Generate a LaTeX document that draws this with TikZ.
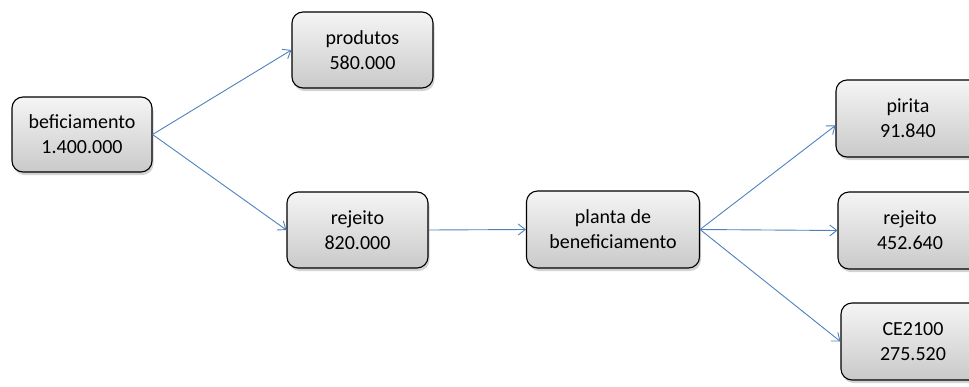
\documentclass[tikz,border=0pt]{standalone}
\usepackage{fontspec}
\setmainfont{Carlito}
\usetikzlibrary{arrows.meta, shadows}
\definecolor{flowBlue}{HTML}{4F81BD}

\begin{document}
\begin{tikzpicture}[x=1pt, y=-1pt,
      >={Straight Barb[length=7pt, width=11pt]},
      box/.style={draw=black, line width=1.1pt, rounded corners=11pt,
        top color=gray!8, bottom color=gray!42, align=center,
        minimum width=141pt, minimum height=76pt, inner sep=2pt,
        font=\fontsize{20}{25}\selectfont,
        drop shadow={shadow xshift=1.5pt, shadow yshift=-3pt, opacity=0.35, fill=gray}},
      flow/.style={->, draw=flowBlue, line width=0.9pt}]
    \useasboundingbox (0,0) rectangle (969,386);
    \clip (0,0) rectangle (969,386);
    % first split
    \node[box, minimum width=140pt, minimum height=75pt] (benef) at (82,134.5) {beficiamento\\1.400.000};
    \node[box] (prod) at (362.5,50) {produtos\\580.000};
    \node[box] (rej) at (357.5,230) {rejeito\\820.000};
    % plant and its outputs
    \node[box, minimum width=173pt, minimum height=77pt] (planta) at (613,229.5) {planta de\\beneficiamento};
    \node[box, minimum width=144pt, minimum height=77pt] (pirita) at (908,118.5) {pirita\\91.840};
    \node[box, minimum width=144pt, minimum height=77pt] (rej2) at (910,230.5) {rejeito\\452.640};
    \node[box, minimum width=144pt, minimum height=77pt] (ce) at (913,341.5) {CE2100\\275.520};
    % connectors
    \draw[flow] (benef.east) -- (prod.west);
    \draw[flow] (benef.east) -- (rej.west);
    \draw[flow] (rej.east) -- (planta.west);
    \draw[flow] (planta.east) -- ([yshift=-7pt]pirita.west);
    \draw[flow] (planta.east) -- (rej2.west);
    \draw[flow] (planta.east) -- (ce.west);
  \end{tikzpicture}
\end{document}
